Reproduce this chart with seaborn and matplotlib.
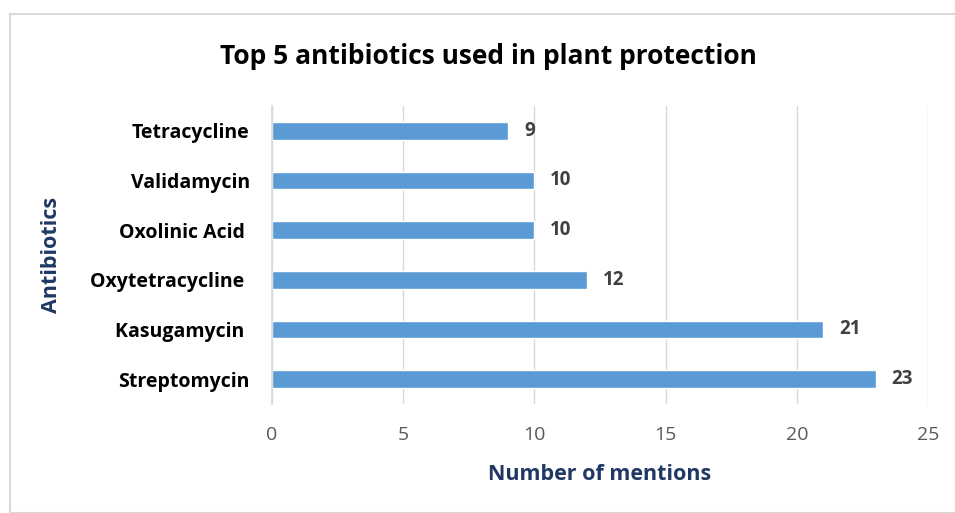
import matplotlib
matplotlib.use('Agg')
import matplotlib.pyplot as plt
import seaborn as sns
import pandas as pd
from matplotlib.patches import Rectangle

sns.set_theme(style='white')
plt.rcParams['font.family'] = ['Open Sans', 'DejaVu Sans']

antibiotics = ['Tetracycline', 'Validamycin', 'Oxolinic Acid ', 'Oxytetracycline ', 'Kasugamycin ', 'Streptomycin']
mentions = [9, 10, 10, 12, 21, 23]
x_ticks = [0, 5, 10, 15, 20, 25]

df = pd.DataFrame({'antibiotic': antibiotics, 'mentions': mentions})

fig = plt.figure(figsize=(9.55, 5.13), dpi=100)
ax = fig.add_axes([0.2848, 0.2125, 0.687, 0.581])

# outer chart border
fig.patches.append(Rectangle((10 / 955, 0), 1.0, 1 - 14 / 513, transform=fig.transFigure,
                             fill=False, edgecolor='#D9D9D9', linewidth=1.5))

sns.barplot(data=df, y='antibiotic', x='mentions', orient='h', color='#5B9BD5',
            width=0.36, saturation=1, ax=ax)

for i, v in enumerate(mentions):
    ax.text(v + 0.6, i, str(v), va='center', ha='left', fontsize=13.5,
            fontweight='bold', color='#404040')

ax.set_xlim(0, 25)
ax.set_ylim(5.5, -0.5)
ax.set_xticks(x_ticks)
ax.set_xticklabels([str(t) for t in x_ticks], fontsize=14, color='#595959')
ax.tick_params(axis='y', labelsize=14, colors='black', length=0, pad=16)
ax.tick_params(axis='x', length=0, pad=16)
for lab in ax.get_yticklabels():
    lab.set_fontweight('bold')
ax.grid(axis='x', color='#D9D9D9', linewidth=1)
ax.set_axisbelow(True)
for s in ['top', 'right', 'bottom']:
    ax.spines[s].set_visible(False)
ax.spines['left'].set_color('#D9D9D9')

ax.set_xlabel('Number of mentions', fontsize=15.5, fontweight='bold', color='#1F3864', labelpad=14)
ax.set_ylabel('Antibiotics', fontsize=15.5, fontweight='bold', color='#1F3864')
ax.yaxis.set_label_coords(-0.32, 0.5)

fig.text(0.511, 1 - 57 / 513, 'Top 5 antibiotics used in plant protection', ha='center', va='center',
         fontsize=19, fontweight='bold', color='black')

plt.savefig('out.png', dpi=100)
plt.close()
